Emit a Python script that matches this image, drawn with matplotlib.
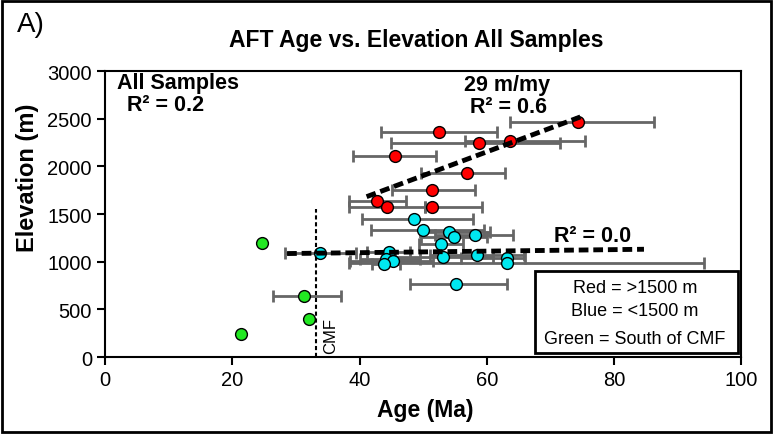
import matplotlib.pyplot as plt
from matplotlib.patches import Rectangle

plt.rcParams["font.family"] = ["Liberation Sans", "DejaVu Sans"]

# red samples (>1500 m): age, elevation, error bar ends
red_age = [52.5, 58.7, 63.7, 45.5, 56.9, 51.4, 42.8, 44.3, 51.4, 74.4]
red_elev = [2359, 2248, 2272, 2108, 1934, 1749, 1634, 1574, 1574, 2464]
red_lo = [43.4, 44.9, 56.5, 39.0, 49.6, 45.1, 38.4, 38.4, 50.3, 63.7]
red_hi = [61.6, 71.5, 75.5, 52.0, 62.9, 58.1, 47.3, 50.3, 59.3, 86.2]

# blue samples (<1500 m)
blue_age = [48.5, 50.0, 54.1, 54.9, 58.1, 52.8, 44.6, 44.2, 45.2, 43.9,
            53.1, 58.4, 63.1, 63.2, 55.1, 33.8]
blue_elev = [1445, 1330, 1316, 1260, 1278, 1190, 1103, 1033, 1008, 974,
             1054, 1068, 1044, 992, 768, 1096]
blue_lo = [40.3, 41.8, 49.5, 49.7, 51.8, 49.4, 41.1, 40.0, 38.5, 42.0,
           45.5, 51.0, 56.0, 38.4, 48.0, 28.2]
blue_hi = [57.9, 59.5, 60.5, 60.0, 64.1, 56.3, 48.0, 49.5, 51.5, 46.4,
           61.0, 65.8, 66.0, 94.2, 63.2, 39.5]

# green samples (south of CMF)
green_age = [24.6, 31.3, 32.0, 21.3]
green_elev = [1201, 636, 398, 244]
green_bar_age = [31.3]
green_bar_elev = [636]
green_bar_lo = [26.4]
green_bar_hi = [37.0]

# regression lines
fit_red_age = [41.1, 74.7]
fit_red_elev = [1683, 2520]
fit_all_age = [28.6, 84.7]
fit_all_elev = [1086, 1131]

# CMF fault line
cmf_age = 33.2
cmf_top = 1550

fig = plt.figure(figsize=(7.73, 4.35), dpi=100)
ax = fig.add_axes([0.136, 0.177, 0.823, 0.657])

bar_kw = dict(fmt="none", ecolor="#666666", elinewidth=2, capsize=4,
              capthick=2, zorder=2)


def bars(age, elev, lo, hi):
    err = [[a - l for a, l in zip(age, lo)], [h - a for a, h in zip(age, hi)]]
    ax.errorbar(age, elev, xerr=err, **bar_kw)


bars(red_age, red_elev, red_lo, red_hi)
bars(blue_age, blue_elev, blue_lo, blue_hi)
bars(green_bar_age, green_bar_elev, green_bar_lo, green_bar_hi)

mk = dict(marker="o", linestyle="none", markersize=8.5, markeredgecolor="black",
          markeredgewidth=1, zorder=3)
ax.plot(red_age, red_elev, markerfacecolor="#ff0000", **mk)
ax.plot(blue_age, blue_elev, markerfacecolor="#00e8f0", **mk)
ax.plot(green_age, green_elev, markerfacecolor="#22e822", **mk)

ax.plot(fit_red_age, fit_red_elev, color="black", linewidth=3.5,
        dashes=(2, 1), solid_capstyle="butt", zorder=4)
ax.plot(fit_all_age, fit_all_elev, color="black", linewidth=3.5,
        dashes=(2, 1), solid_capstyle="butt", zorder=4)

ax.plot([cmf_age, cmf_age], [0, cmf_top], color="black", linewidth=1.5,
        dashes=(2, 1.3), zorder=4)
ax.text(cmf_age + 1.0, 40, "CMF", rotation=90, fontsize=12,
        ha="left", va="bottom")

ax.text(1.8, 2880, "All Samples", fontsize=15.5, fontweight="bold",
        ha="left", va="center")
ax.text(3.5, 2650, "R² = 0.2", fontsize=15.5, fontweight="bold",
        ha="left", va="center")
ax.text(63.2, 2858, "29 m/my", fontsize=15.5, fontweight="bold",
        ha="center", va="center")
ax.text(63.4, 2628, "R² = 0.6", fontsize=15.5, fontweight="bold",
        ha="center", va="center")
ax.text(76.6, 1277, "R² = 0.0", fontsize=15.5, fontweight="bold",
        ha="center", va="center")

ax.add_patch(Rectangle((67.6, 40), 31.9, 865, facecolor="white",
                       edgecolor="black", linewidth=2, zorder=5))
ax.text(83.3, 733, "Red = >1500 m", fontsize=13, ha="center", va="center",
        zorder=6)
ax.text(83.3, 485, "Blue = <1500 m", fontsize=13, ha="center", va="center",
        zorder=6)
ax.text(83.3, 199, "Green = South of CMF", fontsize=13, ha="center",
        va="center", zorder=6)

ax.set_xlim(0, 100)
ax.set_ylim(0, 3000)
ax.set_xticks([0, 20, 40, 60, 80, 100])
ax.set_yticks([0, 500, 1000, 1500, 2000, 2500, 3000])
ax.tick_params(direction="out", length=6, width=1.5, labelsize=14.5,
               top=False, right=False)
for s in ax.spines.values():
    s.set_linewidth(1.5)

fig.text(0.55, 0.057, "Age (Ma)", fontsize=16.5, fontweight="bold",
         ha="center", va="center")
fig.text(0.035, 0.591, "Elevation (m)", fontsize=17, fontweight="bold",
         rotation=90, ha="center", va="center")
fig.text(0.538, 0.908, "AFT Age vs. Elevation All Samples", fontsize=16.5,
         fontweight="bold", ha="center", va="center")

fig.text(0.022, 0.943, "A)", fontsize=20, ha="left", va="center")
fig.add_artist(Rectangle((0.003, 0.005), 0.994, 0.99, transform=fig.transFigure,
                         fill=False, edgecolor="black", linewidth=2))

fig.savefig("out.png", dpi=100)
